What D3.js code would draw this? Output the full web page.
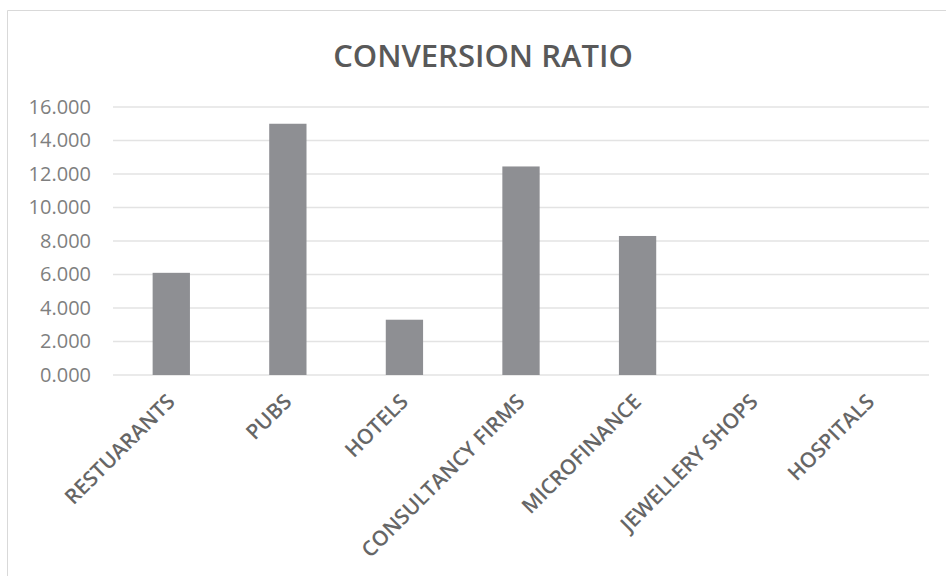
<!DOCTYPE html>
<html>
<head>
<meta charset="utf-8">
<script src="https://cdn.jsdelivr.net/npm/d3@7"></script>
<style>
  body { margin: 0; background: #fff; }
  text { font-family: "Open Sans", sans-serif; }
</style>
</head>
<body>
<div id="chart-area"></div>
<script>
// data
var categories = ["RESTUARANTS", "PUBS", "HOTELS", "CONSULTANCY FIRMS", "MICROFINANCE", "JEWELLERY SHOPS", "HOSPITALS"];
var ratios = [6.1, 15.0, 3.3, 12.45, 8.3, 0, 0];
var yTicks = [0, 2, 4, 6, 8, 10, 12, 14, 16];

var width = 946;
var height = 576;
var margin = {top: 107, right: 17, bottom: 201, left: 113};
var innerWidth = width - margin.left - margin.right;
var innerHeight = height - margin.top - margin.bottom;

var svg = d3.select("#chart-area")
  .append("svg")
    .attr("width", width)
    .attr("height", height);

// chart frame: only its top and left edges show in the crop
svg.append("path")
  .attr("d", "M7.5,576 V10.5 H946")
  .attr("fill", "none")
  .attr("stroke", "#d9d9d9");

svg.append("text")
  .attr("x", 483)
  .attr("y", 67)
  .attr("text-anchor", "middle")
  .style("font-size", "31px")
  .style("font-weight", "600")
  .style("fill", "#595959")
  .text("CONVERSION RATIO");

var g = svg.append("g")
  .attr("transform", "translate(" + margin.left + "," + margin.top + ")");

var x = d3.scaleBand()
  .domain(categories)
  .range([0, innerWidth])
  .paddingInner(0.68)
  .paddingOuter(0.34);

var y = d3.scaleLinear()
  .domain([0, 16])
  .range([innerHeight, 0]);

// gridlines
g.append("g")
  .selectAll("line")
  .data(yTicks)
  .enter().append("line")
    .attr("x1", 0)
    .attr("x2", innerWidth)
    .attr("y1", d => y(d))
    .attr("y2", d => y(d))
    .attr("stroke", "#e3e3e3")
    .attr("stroke-width", 1.5);

// y axis
var yAxis = g.append("g")
  .call(d3.axisLeft(y).tickValues(yTicks).tickFormat(d3.format(".3f")).tickSize(0).tickPadding(22));
yAxis.select(".domain").remove();
yAxis.selectAll("text")
  .style("font-size", "20px")
  .style("fill", "#7f7f7f")
  .style("font-family", "'Open Sans', sans-serif");

// bars
g.selectAll("rect.bar")
  .data(categories)
  .enter().append("rect")
    .attr("class", "bar")
    .attr("x", d => x(d))
    .attr("width", x.bandwidth())
    .attr("y", (d, i) => y(ratios[i]))
    .attr("height", (d, i) => innerHeight - y(ratios[i]))
    .attr("fill", "#8e8f93");

// x axis
var xAxis = g.append("g")
  .attr("transform", "translate(0," + innerHeight + ")")
  .call(d3.axisBottom(x).tickSize(0).tickPadding(0));
xAxis.select(".domain").remove();
xAxis.selectAll("text")
  .attr("text-anchor", "end")
  .attr("dy", 0)
  .attr("transform", "translate(5,28) rotate(-45)")
  .style("font-size", "21px")
  .style("font-weight", "600")
  .style("fill", "#666666")
  .style("font-family", "'Open Sans', sans-serif");
</script>
</body>
</html>
